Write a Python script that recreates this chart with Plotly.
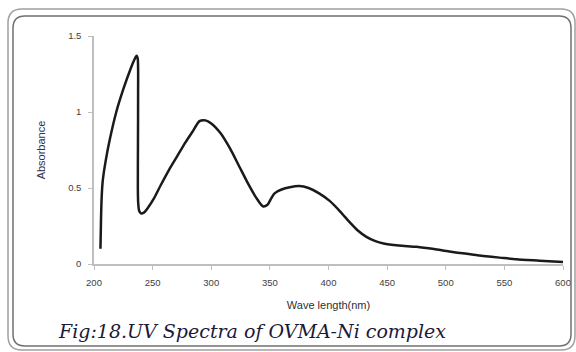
import plotly.graph_objects as go

wavelength = [205.5, 206.0, 206.6, 207.5, 210.0, 213.5, 219.0, 225.0, 231.0, 234.5, 236.3,
              237.3, 237.6, 237.5, 237.4, 237.7, 238.5, 240.0, 242.5, 246.0, 251.0, 257.0,
              264.0, 271.0, 278.0, 284.0, 290.0, 295.0, 300.0, 308.0, 316.0, 324.0, 332.0,
              338.0, 344.0, 348.0, 351.0, 354.0, 360.0, 367.0, 375.0, 383.0, 392.0, 401.0,
              410.0, 418.0, 425.0, 432.0, 440.0, 447.0, 460.0, 475.0, 490.0, 503.0, 518.0,
              532.0, 546.0, 560.0, 580.0, 600.0]
absorbance = [0.10, 0.30, 0.45, 0.55, 0.68, 0.82, 1.00, 1.15, 1.28, 1.345, 1.37,
              1.35, 1.12, 0.80, 0.50, 0.40, 0.35, 0.333, 0.338, 0.37, 0.43, 0.52,
              0.62, 0.71, 0.80, 0.87, 0.94, 0.945, 0.925, 0.86, 0.76, 0.64, 0.52,
              0.44, 0.38, 0.39, 0.43, 0.465, 0.49, 0.505, 0.513, 0.50, 0.465, 0.415,
              0.345, 0.275, 0.22, 0.18, 0.15, 0.135, 0.122, 0.113, 0.098, 0.082, 0.067,
              0.053, 0.042, 0.031, 0.022, 0.013]

x_ticks = [200, 250, 300, 350, 400, 450, 500, 550, 600]
y_ticks = [0, 0.5, 1, 1.5]
y_tick_labels = ["0", "0.5", "1", "1.5"]

L, R, T, B = 94, 13, 36, 88
W, H = 576, 352
pw, ph = W - L - R, H - T - B

def px(x):
    return (x - L) / pw

def py(y):
    return (H - B - y) / ph

def rrect(x0, y0, x1, y1, r):
    rx, ry = r / pw, r / ph
    a, b, c, d = px(x0), px(x1), py(y0), py(y1)  # c top, d bottom
    return (f"M {a+rx},{c} L {b-rx},{c} Q {b},{c} {b},{c-ry} "
            f"L {b},{d+ry} Q {b},{d} {b-rx},{d} L {a+rx},{d} "
            f"Q {a},{d} {a},{d+ry} L {a},{c-ry} Q {a},{c} {a+rx},{c} Z")

fig = go.Figure()
fig.add_trace(go.Scatter(x=wavelength, y=absorbance, mode="lines",
                         line=dict(color="#1a1a1a", width=2.5, shape="spline", smoothing=0.7),
                         showlegend=False, hoverinfo="skip"))

fig.update_layout(
    template="none",
    autosize=False,
    width=W, height=H,
    margin=dict(l=L, r=R, t=T, b=B, pad=0),
    paper_bgcolor="white", plot_bgcolor="white",
    font=dict(family="Liberation Sans, Arial, sans-serif", size=9, color="#404040"),
    xaxis=dict(range=[200, 600], tickvals=x_ticks, showgrid=False, zeroline=False,
               automargin=False,
               showline=True, linecolor="#bfbfbf", linewidth=1.5,
               ticks="outside", ticklen=4, tickcolor="#bfbfbf", ticklabelstandoff=5,
               tickfont=dict(size=9.5, color="#404040"),
               title=dict(text="Wave length(nm)", font=dict(size=11, color="#303030"), standoff=14)),
    yaxis=dict(range=[0, 1.5], tickvals=y_ticks, ticktext=y_tick_labels, showgrid=False,
               automargin=False,
               zeroline=False, showline=True, linecolor="#bfbfbf", linewidth=1.5,
               ticks="outside", ticklen=4, tickcolor="#bfbfbf", ticklabelstandoff=5,
               tickfont=dict(size=9.5, color="#404040"),
               title=dict(text="Absorbance", font=dict(size=11, color="#303050"), standoff=20)),
    shapes=[
        dict(type="path", xref="paper", yref="paper", path=rrect(8, 9, 575, 350, 14),
             line=dict(color="#a0a0a0", width=1.5)),
        dict(type="path", xref="paper", yref="paper", path=rrect(13, 16, 571, 346, 12),
             line=dict(color="#707070", width=1.5)),
    ],
    annotations=[
        dict(text="Fig:18.UV Spectra of OVMA-Ni complex", xref="paper", yref="paper",
             x=px(252), y=py(331), xanchor="center", yanchor="middle", showarrow=False,
             font=dict(family="DejaVu Serif, serif", size=19, color="#1a1a3a", style="italic")),
    ],
)

fig.write_html("out.html", config={"responsive": False},
               post_script="document.documentElement.style.overflow='hidden';document.body.style.overflow='hidden';document.body.style.margin='0';")
